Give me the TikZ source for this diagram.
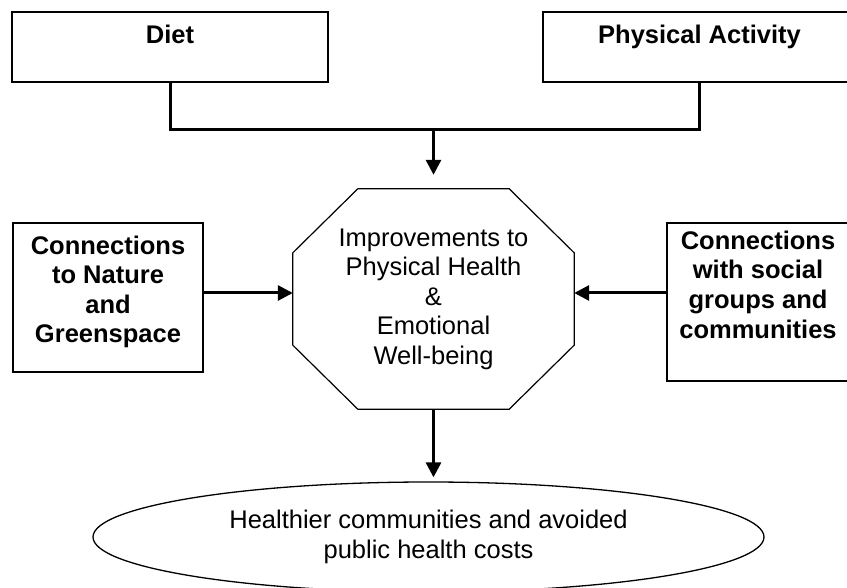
\documentclass[tikz,border=0pt]{standalone}
\usepackage{fontspec}
\setmainfont{Liberation Sans}
\usepackage{tikz}
\usetikzlibrary{shapes.geometric,arrows.meta}
\tikzstyle{box}=[draw,rectangle,line width=1.2pt,align=center,inner sep=0,font=\bfseries\fontsize{25.5}{29.5}\selectfont]
\tikzstyle{headbox}=[box,text height=32pt,text depth=38pt]
\tikzstyle{link}=[line width=3pt]
\tikzstyle{arr}=[link,-{Triangle[length=15pt,width=15pt]}]

\begin{document}
\begin{tikzpicture}[x=1pt,y=-1pt]
        \clip (0,0) rectangle (847,588);

        \node[headbox,minimum width=316pt] (diet) at (170,47) {Diet};
        \node[headbox,minimum width=313pt] (act) at (699.5,47) {Physical Activity};

        \node[box,minimum width=190pt,text height=120pt,text depth=29pt] (nat) at (108,297.5)
                {Connections\\to Nature\\and\\Greenspace};
        \node[box,minimum width=182pt,text height=115pt,text depth=43pt] (soc) at (758,302)
                {Connections\\with social\\groups and\\communities};

        % octagon in the middle
        \node[align=center,inner sep=0,minimum width=281pt,minimum height=220pt,
              font=\fontsize{25.5}{29.5}\selectfont] (hub) at (433.5,299)
                {Improvements to\\Physical Health\\\&\\Emotional\\Well-being};
        \draw[line width=1.2pt]
                ([xshift=65pt]hub.north west) -- ([xshift=-65pt]hub.north east)
                -- ([yshift=-64pt]hub.north east) -- ([yshift=64pt]hub.south east)
                -- ([xshift=-65pt]hub.south east) -- ([xshift=65pt]hub.south west)
                -- ([yshift=64pt]hub.south west) -- ([yshift=-64pt]hub.north west)
                -- cycle;

        \node[ellipse,draw,line width=1.3pt,inner sep=0,minimum width=671pt,minimum height=110pt,
              align=center,font=\fontsize{25.5}{29.5}\selectfont] (out) at (428.5,537)
                {Healthier communities and avoided\\public health costs};

        \coordinate (j) at (433.5,130);

        \draw[link] (diet.south) |- (j) -| (act.south);
        \draw[arr,shorten >=14pt] (j) -- (hub.north);
        \draw[arr] ([yshift=4.5pt]nat.east) -- ([yshift=6pt]hub.west);
        \draw[arr] ([yshift=9pt]soc.west) -- ([yshift=6pt]hub.east);
        \draw[arr,shorten >=4pt] (hub.south) -- (hub.south |- out.north);

\end{tikzpicture}
\end{document}
